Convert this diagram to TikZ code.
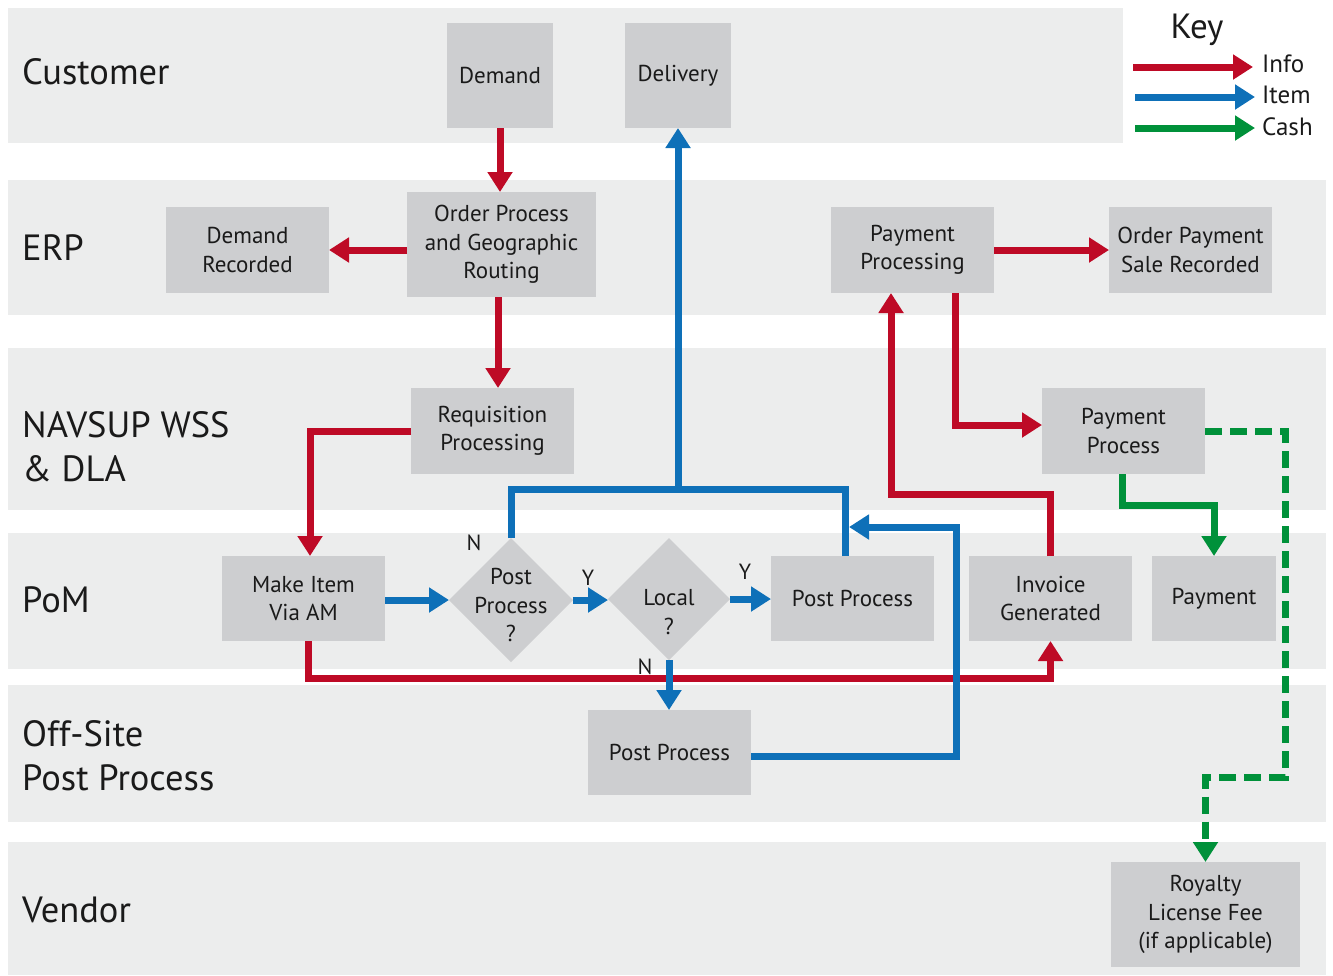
\documentclass[tikz,border=0pt]{standalone}
\usepackage{fontspec}
\setmainfont{PT Sans}
\usetikzlibrary{arrows.meta,shapes.geometric}
\definecolor{lanegray}{HTML}{ECEDED}
\definecolor{boxgray}{HTML}{CDCED0}
\definecolor{infored}{HTML}{BE0A26}
\definecolor{itemblue}{HTML}{0E70B8}
\definecolor{cashgreen}{HTML}{00913A}
\definecolor{txt}{HTML}{1A1A1A}
\tikzset{
  lane/.style={fill=lanegray,draw=none},
  lanetitle/.style={anchor=west,align=left,text=txt,font=\fontsize{36.5}{44}\selectfont,inner sep=0pt},
  procbox/.style={fill=boxgray,draw=none,align=center,text=txt,font=\fontsize{23}{28.5}\selectfont,inner sep=0pt,outer sep=0pt},
  decbox/.style={diamond,fill=boxgray,draw=none,inner sep=0pt,outer sep=0pt,minimum size=124pt},
  dectext/.style={align=center,text=txt,font=\fontsize{23}{28.5}\selectfont,inner sep=0pt},
  yn/.style={text=txt,font=\fontsize{22}{26}\selectfont,inner sep=0pt},
  flow/.style={line width=7pt,-{Triangle[length=20pt,width=24pt]}},
  infoarrow/.style={flow,draw=infored},
  itemarrow/.style={flow,draw=itemblue},
  cashline/.style={line width=7pt,draw=cashgreen},
  itemline/.style={line width=7pt,draw=itemblue},
  casharrow/.style={flow,draw=cashgreen},
  keytext/.style={anchor=west,text=txt,font=\fontsize{25}{28}\selectfont,inner sep=0pt},
}
\begin{document}
\begin{tikzpicture}[x=1pt,y=-1pt]
\useasboundingbox (0,0) rectangle (1333,975);
% lanes
\fill[lane] (8,8) rectangle (1123,143);
\fill[lane] (8,180) rectangle (1326,315);
\fill[lane] (8,348) rectangle (1326,510);
\fill[lane] (8,533) rectangle (1326,669);
\fill[lane] (8,685) rectangle (1326,822);
\fill[lane] (8,842) rectangle (1326,975);
% lane titles
\node[lanetitle] (tcust) at (22,72) {Customer};
\node[lanetitle] (terp) at (22,248) {ERP};
\node[lanetitle] (tnav) at (22,447) {NAVSUP WSS\\\& DLA};
\node[lanetitle] (tpom) at (22,600) {PoM};
\node[lanetitle] (toff) at (22,756) {Off-Site\\Post Process};
\node[lanetitle] (tven) at (22,910) {Vendor};
% key
\node[text=txt,font=\fontsize{35}{38}\selectfont,inner sep=0pt] (key) at (1197,30) {Key};
\coordinate (k1a) at (1133,67); \coordinate (k1b) at (1253,67);
\coordinate (k2a) at (1135,97); \coordinate (k2b) at (1255,97);
\coordinate (k3a) at (1135,128); \coordinate (k3b) at (1255,128);
\draw[infoarrow] (k1a) -- (k1b);
\draw[itemarrow] (k2a) -- (k2b);
\draw[casharrow] (k3a) -- (k3b);
\node[keytext] (kinfo) at (1262,64) {Info};
\node[keytext] (kitem) at (1262,95) {Item};
\node[keytext] (kcash) at (1262,127) {Cash};
% boxes
\node[procbox,minimum width=106pt,minimum height=105pt] (demand) at (500,75.5) {Demand};
\node[procbox,minimum width=106pt,minimum height=105pt] (delivery) at (678,75.5) {Delivery};
\node[procbox,minimum width=163pt,minimum height=86pt] (demrec) at (247.5,250) {Demand\\Recorded};
\node[procbox,minimum width=189pt,minimum height=105pt] (order) at (501.5,244.5) {Order Process\\and Geographic\\Routing};
\node[procbox,minimum width=163pt,minimum height=86pt] (payproc) at (912.5,250) {Payment\\Processing};
\node[procbox,minimum width=163pt,minimum height=86pt] (opsr) at (1190.5,250) {Order Payment\\Sale Recorded};
\node[procbox,minimum width=163pt,minimum height=86pt] (req) at (492.5,431) {Requisition\\Processing};
\node[procbox,minimum width=163pt,minimum height=86pt] (payprc) at (1123.5,431) {Payment\\Process};
\node[procbox,minimum width=163pt,minimum height=85pt] (make) at (303.5,598.5) {Make Item\\Via AM};
\node[decbox] (ppd) at (511,600) {};
\node[dectext] (ppdt) at (511,605) {Post\\Process\\?};
\node[decbox,minimum size=122pt] (local) at (669,599) {};
\node[dectext] (localt) at (669,612) {Local\\?};
\node[procbox,minimum width=163pt,minimum height=85pt] (ppm) at (852.5,598.5) {Post Process};
\node[procbox,minimum width=163pt,minimum height=85pt] (inv) at (1050.5,598.5) {Invoice\\Generated};
\node[procbox,minimum width=124pt,minimum height=85pt] (pay) at (1214,598.5) {Payment};
\node[procbox,minimum width=163pt,minimum height=85pt] (offpp) at (669.5,752.5) {Post Process};
\node[procbox,minimum width=189pt,minimum height=105pt] (roy) at (1205.5,914.5) {Royalty\\License Fee\\(if applicable)};
% labels
\node[yn] (ln1) at (474,543) {N};
\node[yn] (ly1) at (588,578) {Y};
\node[yn] (ly2) at (745,572) {Y};
\node[yn] (ln2) at (645,667) {N};
% helper coordinates
\coordinate (junc) at (678,489);
\coordinate (bturn) at (956,527);
\coordinate (bjoin) at (849,527);
\coordinate (gturn) at (1285,777);
% info connectors
\draw[infoarrow] (demand.south) -- (demand.south |- order.north);
\draw[infoarrow] (order.west |- demrec.east) -- (demrec.east);
\draw[infoarrow] ([xshift=-3.5pt]order.south) -- ([xshift=-3.5pt]order.south |- req.north);
\draw[infoarrow] (req.west) -| ([xshift=6.5pt]make.north);
\draw[infoarrow] ([xshift=4.5pt]make.south) -- ++(0,37) -| (inv.south);
\draw[infoarrow] (inv.north) -- ++(0,-62) -| ([xshift=-21.5pt]payproc.south);
\draw[infoarrow] ([xshift=42.5pt]payproc.south) |- ([yshift=6pt]payprc.west);
\draw[infoarrow] (payproc.east) -- (opsr.west);
% item connectors
\draw[itemarrow] (make.east |- ppd.west) -- (ppd.west);
\draw[itemarrow] (ppd.east) -- (ppd.east -| local.west);
\draw[itemarrow] (local.east) -- (local.east -| ppm.west);
\draw[itemarrow] (ppd.north) |- (junc) -- (delivery.south);
\draw[itemline] ([xshift=-7.5pt]ppm.north) |- (junc);
\draw[itemarrow] (local.south) -- (local.south |- offpp.north);
\draw[itemarrow] ([yshift=-3.5pt]offpp.east) -| (bturn) -- (bjoin);
% cash connectors
\draw[casharrow] ([xshift=-1.5pt]payprc.south) -- ++(0,31) -| (pay.north);
\draw[casharrow,dash pattern=on 17pt off 8pt] (payprc.east) -| (gturn) -| (roy.north);
\end{tikzpicture}
\end{document}
